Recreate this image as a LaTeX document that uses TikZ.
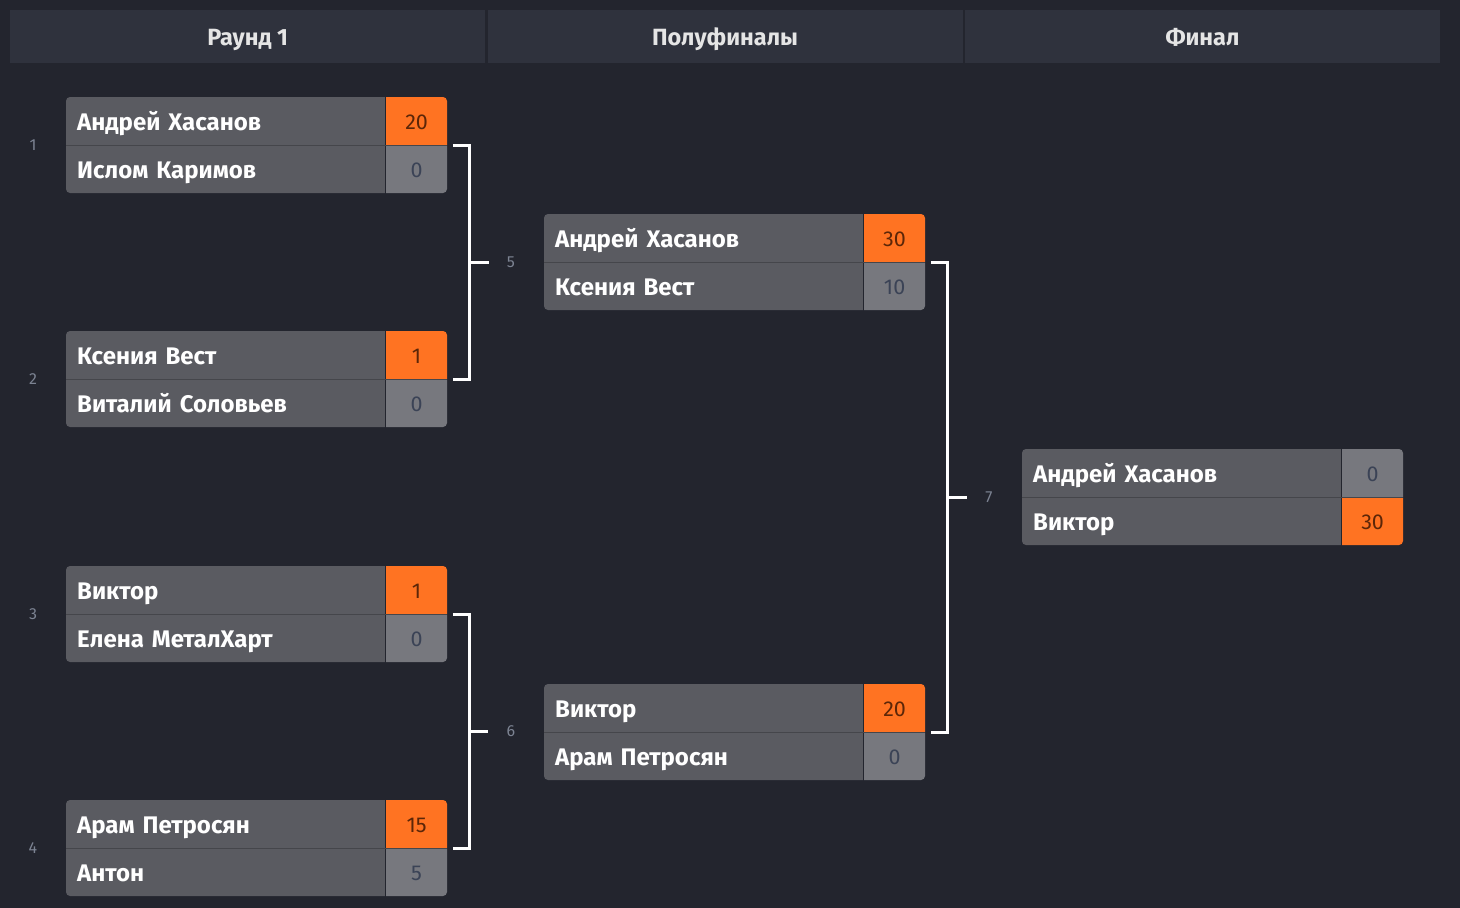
\documentclass[tikz,border=0pt]{standalone}
\usepackage{fontspec}
\setmainfont{Fira Sans}
\usepackage{tikz}
\usetikzlibrary{positioning,calc}

\definecolor{bg}{HTML}{23252E}
\definecolor{headbg}{HTML}{2F323D}
\definecolor{cell}{HTML}{5A5B61}
\definecolor{losebg}{HTML}{77787E}
\definecolor{winbg}{HTML}{FF7322}
\definecolor{wintext}{HTML}{5C2608}
\definecolor{losetext}{HTML}{3B4356}
\definecolor{numtext}{HTML}{7C8392}
\definecolor{rowrule}{HTML}{45464B}

% one match: name, x, y, player 1, score 1, style 1, player 2, score 2, style 2
\newcommand{\duel}[9]{%
  \begin{scope}
    \clip[rounded corners=4pt] (#2,#3) rectangle ++(381,96);
    \node[player, anchor=north west] (#1a) at (#2,#3) {#4};
    \node[#6, anchor=west] (#1as) at (#1a.east) {#5};
    \node[player, anchor=north west] (#1b) at (#1a.south west) {#7};
    \node[#9, anchor=west] (#1bs) at (#1b.east) {#8};
    \draw[rowrule, line width=1.5pt] (#1a.south west) -- (#1as.south east);
  \end{scope}}

\begin{document}
\begin{tikzpicture}[x=1pt, y=-1pt,
  head/.style={fill=headbg, text=white!90!black, minimum width=475pt, minimum height=53pt,
    inner sep=0pt, text height=17pt, text depth=0pt, font=\fontsize{23.5}{26}\selectfont\bfseries},
  player/.style={fill=cell, text=white, minimum height=48pt, inner xsep=11pt, inner ysep=0pt,
    text width=297pt, align=left, text height=18.5pt, text depth=0pt,
    font=\fontsize{24}{26}\selectfont\bfseries},
  score/.style={minimum width=62pt, minimum height=48pt, inner sep=0pt,
    text height=16.5pt, text depth=0pt, font=\fontsize{21.5}{24}\selectfont},
  winscore/.style={score, fill=winbg, text=wintext},
  losescore/.style={score, fill=losebg, text=losetext},
  num/.style={text=numtext, inner sep=0pt, font=\fontsize{16}{18}\selectfont},
  link/.style={draw=white, line width=3pt}]

\fill[bg] (0,0) rectangle (1460,908);
\useasboundingbox (0,0) rectangle (1460,908);

% column headers
\node[head, anchor=north west] (r1) at (10,10) {Раунд 1};
\node[head, right=2pt of r1] (r2) {Полуфиналы};
\node[head, right=2pt of r2] (r3) {Финал};

% round 1
\duel{m1}{66}{97}{Андрей Хасанов}{20}{winscore}{Ислом Каримов}{0}{losescore}
\duel{m2}{66}{331}{Ксения Вест}{1}{winscore}{Виталий Соловьев}{0}{losescore}
\duel{m3}{66}{566}{Виктор}{1}{winscore}{Елена МеталХарт}{0}{losescore}
\duel{m4}{66}{800}{Арам Петросян}{15}{winscore}{Антон}{5}{losescore}

% semifinals and final
\duel{m5}{544}{214}{Андрей Хасанов}{30}{winscore}{Ксения Вест}{10}{losescore}
\duel{m6}{544}{684}{Виктор}{20}{winscore}{Арам Петросян}{0}{losescore}
\duel{m7}{1022}{449}{Андрей Хасанов}{0}{losescore}{Виктор}{30}{winscore}

\foreach \m/\n in {m1/1, m2/2, m3/3, m4/4}
  \node[num] (n\n) at ([xshift=-33pt]\m a.south west) {\n};

% brackets
\draw[link] ([xshift=5pt]m1as.south east) -- ++(17,0) |- ([xshift=5pt]m2as.south east);
\draw[link] ([xshift=5pt]m3as.south east) -- ++(17,0) |- ([xshift=5pt]m4as.south east);
\draw[link] ([xshift=5pt]m5as.south east) -- ++(17,0) |- ([xshift=5pt]m6as.south east);

\coordinate (j5) at ($([xshift=22pt]m1as.south east)!.5!([xshift=22pt]m2as.south east)$);
\coordinate (j6) at ($([xshift=22pt]m3as.south east)!.5!([xshift=22pt]m4as.south east)$);
\coordinate (j7) at ($([xshift=22pt]m5as.south east)!.5!([xshift=22pt]m6as.south east)$);

\foreach \j in {5,6,7} {
  \node[num] (n\j) at ([xshift=41pt]j\j) {\j};
  \draw[link, shorten >=18pt] (j\j) -- (n\j.west);
}
\end{tikzpicture}
\end{document}
